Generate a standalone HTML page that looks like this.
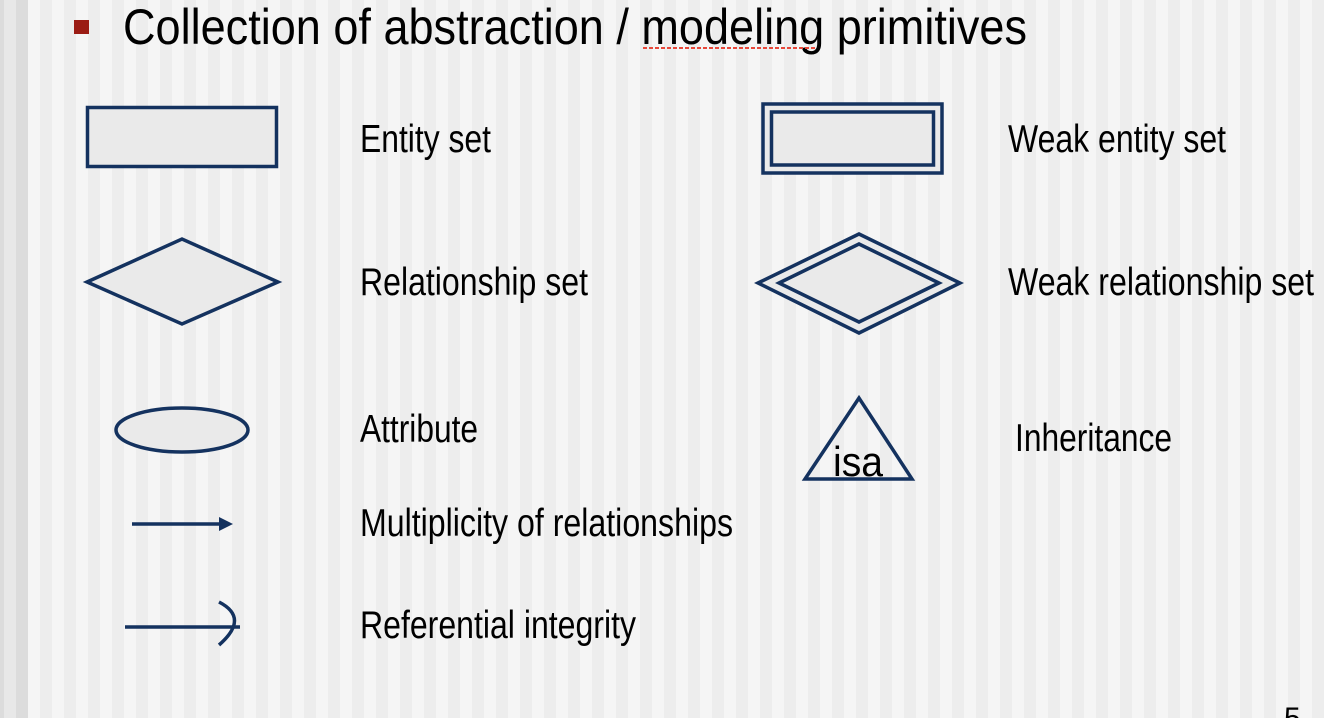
<!DOCTYPE html>
<html><head><style>
html,body{margin:0;padding:0;}
body{width:1324px;height:718px;overflow:hidden;position:relative;
background:linear-gradient(to right,#dcdcdc 0,#dcdcdc 4px,#e8e8e8 4px,#e8e8e8 16px,#dcdcdc 16px,#dcdcdc 28px,transparent 28px),
repeating-linear-gradient(to right,#f5f5f5 0,#f5f5f5 12px,#ededed 12px,#ededed 24px);
background-position:0 0,4px 0;}
svg{position:absolute;left:0;top:0;}
text{font-family:"Liberation Sans",Arial,sans-serif;fill:#000;}
</style></head><body>
<svg width="1324" height="718" viewBox="0 0 1324 718">
<rect x="74" y="20" width="15" height="14" fill="#9b1c14"/>
<text x="123" y="44" font-size="50" textLength="904" lengthAdjust="spacingAndGlyphs">Collection of abstraction / modeling primitives</text>
<line x1="643" y1="48" x2="817" y2="48" stroke="#e8483a" stroke-width="2" stroke-dasharray="4,2"/>
<g stroke="#14325f" stroke-width="3.5" fill="#eaeaea" stroke-linejoin="miter">
<rect x="87.5" y="107.5" width="189" height="59"/>
<rect x="763" y="104" width="179" height="69"/>
<rect x="771.5" y="112" width="162" height="53"/>
<polygon points="87,282 182,239 278,282 182,324"/>
<polygon points="758,283 859,234 960,283 859,333"/>
<polygon points="779,283 859,244 939,283 859,322"/>
<ellipse cx="182" cy="430" rx="66" ry="22"/>
<polygon points="859,398 805,479 912,479" fill="none"/>
<line x1="132" y1="524" x2="220" y2="524"/>
<line x1="125" y1="627" x2="240" y2="627"/>
<path d="M219,602 Q250,618 219,645" fill="none"/>
</g>
<polygon points="219,517 233,524 219,531" fill="#14325f"/>
<text x="833" y="476" font-size="42" textLength="50" lengthAdjust="spacingAndGlyphs">isa</text>
<g font-size="39">
<text x="360" y="152" textLength="131" lengthAdjust="spacingAndGlyphs">Entity set</text>
<text x="360" y="295" textLength="228" lengthAdjust="spacingAndGlyphs">Relationship set</text>
<text x="360" y="442" textLength="118" lengthAdjust="spacingAndGlyphs">Attribute</text>
<text x="360" y="536" textLength="373" lengthAdjust="spacingAndGlyphs">Multiplicity of relationships</text>
<text x="360" y="638" textLength="276" lengthAdjust="spacingAndGlyphs">Referential integrity</text>
<text x="1008" y="152" textLength="218" lengthAdjust="spacingAndGlyphs">Weak entity set</text>
<text x="1008" y="295" textLength="306" lengthAdjust="spacingAndGlyphs">Weak relationship set</text>
<text x="1015" y="451" textLength="157" lengthAdjust="spacingAndGlyphs">Inheritance</text>
</g>
<text x="1284" y="728" font-size="30">5</text>
</svg>
</body></html>
